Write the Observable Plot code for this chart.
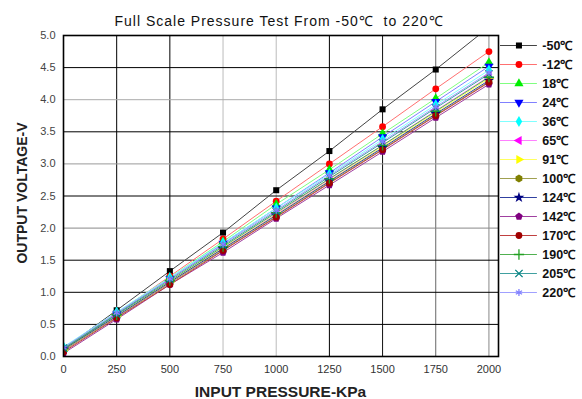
<!DOCTYPE html>
<html><head><meta charset="utf-8">
<script src="https://cdn.jsdelivr.net/npm/d3@7"></script>
<script src="https://cdn.jsdelivr.net/npm/@observablehq/plot@0.6"></script>
<style>
body{margin:0;background:#fff;}
#wrap{position:relative;width:582px;height:399px;font-family:"Liberation Sans",Arial,sans-serif;color:#111;overflow:hidden;}
#wrap svg{position:absolute;overflow:visible;}
.title{position:absolute;top:12px;left:0;width:558px;text-align:center;font-size:14px;letter-spacing:1px;line-height:18px;}
.xlab{position:absolute;top:383px;left:63px;width:435px;text-align:center;font-size:15.5px;font-weight:bold;color:#222;line-height:18px;}
.ylab{position:absolute;left:22px;top:193px;transform:translate(-50%,-50%) rotate(-90deg);white-space:nowrap;font-size:14px;font-weight:bold;color:#222;}
</style></head>
<body>
<div id="wrap">
  <div class="title">Full Scale Pressure Test From -50℃&nbsp; to 220℃</div>
  <div class="xlab">INPUT PRESSURE-KPa</div>
  <div class="ylab">OUTPUT VOLTAGE-V</div>
</div>
<script>
// ---- data ----
const pressure = [0, 250, 500, 750, 1000, 1250, 1500, 1750, 2000];
const temps = ["-50℃","-12℃","18℃","24℃","36℃","65℃","91℃","100℃","124℃","142℃","170℃","190℃","205℃","220℃"];
const vM50 = [0.12, 0.72, 1.33, 1.93, 2.59, 3.20, 3.85, 4.47, 5.13];
const vM12 = [0.10, 0.67, 1.25, 1.83, 2.42, 3.00, 3.58, 4.17, 4.75];
const v18  = [0.12, 0.68, 1.23, 1.79, 2.37, 2.91, 3.47, 4.02, 4.58];
const v24  = [0.10, 0.66, 1.21, 1.76, 2.31, 2.86, 3.42, 3.97, 4.52];
const v36  = [0.15, 0.69, 1.23, 1.77, 2.31, 2.84, 3.38, 3.92, 4.46];
const v65  = [0.08, 0.62, 1.15, 1.69, 2.22, 2.76, 3.29, 3.83, 4.36];
const v91  = [0.10, 0.63, 1.16, 1.69, 2.21, 2.74, 3.27, 3.80, 4.33];
const v100 = [0.09, 0.61, 1.14, 1.66, 2.18, 2.71, 3.23, 3.76, 4.28];
const v124 = [0.11, 0.63, 1.16, 1.68, 2.20, 2.73, 3.25, 3.78, 4.30];
const v142 = [0.05, 0.58, 1.12, 1.62, 2.15, 2.67, 3.19, 3.72, 4.24];
const v170 = [0.07, 0.60, 1.12, 1.65, 2.17, 2.70, 3.22, 3.75, 4.27];
const v190 = [0.12, 0.65, 1.18, 1.71, 2.24, 2.77, 3.29, 3.82, 4.35];
const v205 = [0.13, 0.66, 1.20, 1.73, 2.26, 2.80, 3.33, 3.87, 4.40];
const v220 = [0.14, 0.68, 1.21, 1.75, 2.28, 2.82, 3.35, 3.89, 4.42];
const seriesValues = [vM50, vM12, v18, v24, v36, v65, v91, v100, v124, v142, v170, v190, v205, v220];
const xTicks = [0, 250, 500, 750, 1000, 1250, 1500, 1750, 2000];
const yTicks = [0, 0.5, 1, 1.5, 2, 2.5, 3, 3.5, 4, 4.5, 5];

// ---- styles ----
const colors = ["#000000","#ff0000","#00ee00","#0000ff","#00ffff","#ff00ff","#ffff00","#808000","#000080","#800080","#a00000","#22a022","#008080","#8080ff"];
const lineColors = ["#444444","#ff7070","#80ff80","#8080ff","#80ffff","#ff80ff","#ffff60","#a0a050","#3040a0","#a040a0","#c04040","#50b050","#40a0a0","#a0a0ff"];
const pentagon = {draw(c, size){const r=Math.sqrt(size/2.378);for(let k=0;k<5;k++){const a=-Math.PI/2+k*2*Math.PI/5;const x=r*Math.cos(a),y=r*Math.sin(a);k?c.lineTo(x,y):c.moveTo(x,y);}c.closePath();}};
const symbols = ["square","circle","triangle","triangle","diamond","triangle","triangle","hexagon","star",pentagon,"circle","plus","times","asterisk"];
const rotations = [0,0,0,180,0,-90,90,0,0,0,0,0,0,0];
const strokeOnly = [false,false,false,false,false,false,false,false,false,false,false,true,true,true];
const xGridColors = {250:"#000",500:"#000",750:"#bbb",1000:"#bbb",1250:"#000",1500:"#111",1750:"#666",2000:"#888"};
const yGridColors = {0.5:"#000",1:"#000",1.5:"#000",2:"#888",2.5:"#000",3:"#999",3.5:"#000",4:"#aaa",4.5:"#000"};

const rows = temps.flatMap((t,i)=>pressure.map((p,j)=>({t, i, p, v: seriesValues[i][j]})));

function dotOpts(i, extra){
  const o = {symbol: symbols[i], r: 3.4, rotate: rotations[i], ...extra};
  if (strokeOnly[i]) { o.fill = "none"; o.stroke = colors[i]; o.strokeWidth = 1.3; }
  else { o.fill = colors[i]; o.stroke = "none"; }
  return o;
}

const marks = [
  Plot.ruleX(xTicks.filter(d=>d>0), {stroke: d=>xGridColors[d], strokeWidth:1}),
  Plot.ruleY(yTicks.filter(d=>d>0 && d<5), {stroke: d=>yGridColors[d], strokeWidth:1}),
];
temps.forEach((t,i)=>{
  const data = rows.filter(r=>r.i===i);
  marks.push(Plot.line(data, {x:"p", y:"v", stroke: lineColors[i], strokeWidth:1, clip:true}));
});
temps.forEach((t,i)=>{
  const data = rows.filter(r=>r.i===i);
  marks.push(Plot.dot(data, dotOpts(i, {x:"p", y:"v", clip:true})));
});
marks.push(Plot.frame({stroke:"#000", strokeWidth:1.6}));
marks.push(Plot.axisX({ticks: xTicks, tickSize:0, tickPadding:9, fontSize:11, fill:"#333", label:null, tickFormat: d=>String(d), style:{letterSpacing:"0.6px"}}));
marks.push(Plot.axisY({ticks: yTicks, tickSize:0, tickPadding:8, fontSize:11, fill:"#444", label:null, tickFormat: d=>d.toFixed(1)}));

const chart = Plot.plot({
  width: 582, height: 399,
  marginLeft: 63, marginRight: 84, marginTop: 35, marginBottom: 43,
  style: {fontFamily: "'Liberation Sans', Arial, sans-serif", background: "transparent"},
  x: {domain: [0, 2045]},
  y: {domain: [0, 5]},
  marks
});
chart.style.left = "0px"; chart.style.top = "0px";
document.getElementById("wrap").appendChild(chart);

// legend
const legendMarks = [];
temps.forEach((t,i)=>{
  legendMarks.push(Plot.ruleY([t], {x1:0, x2:0.45, stroke: lineColors[i], strokeWidth:1.2}));
  legendMarks.push(Plot.dot([t], dotOpts(i, {x:0.225, y:d=>d})));
});
legendMarks.push(Plot.text(temps, {x:0.51, y:d=>d, text:d=>d, textAnchor:"start", fontSize:12.5, fontWeight:"bold", fill:"#111"}));
const legend = Plot.plot({
  width: 86, height: 278,
  marginLeft: 4, marginRight: 0, marginTop: 13, marginBottom: 15,
  style: {fontFamily: "'Liberation Sans', Arial, sans-serif", background: "transparent", overflow:"visible"},
  x: {domain: [0, 1], axis: null},
  y: {type: "point", domain: temps, padding: 0, axis: null},
  marks: legendMarks
});
legend.style.left = "496px"; legend.style.top = "30px";
document.getElementById("wrap").appendChild(legend);
</script>
</body></html>
